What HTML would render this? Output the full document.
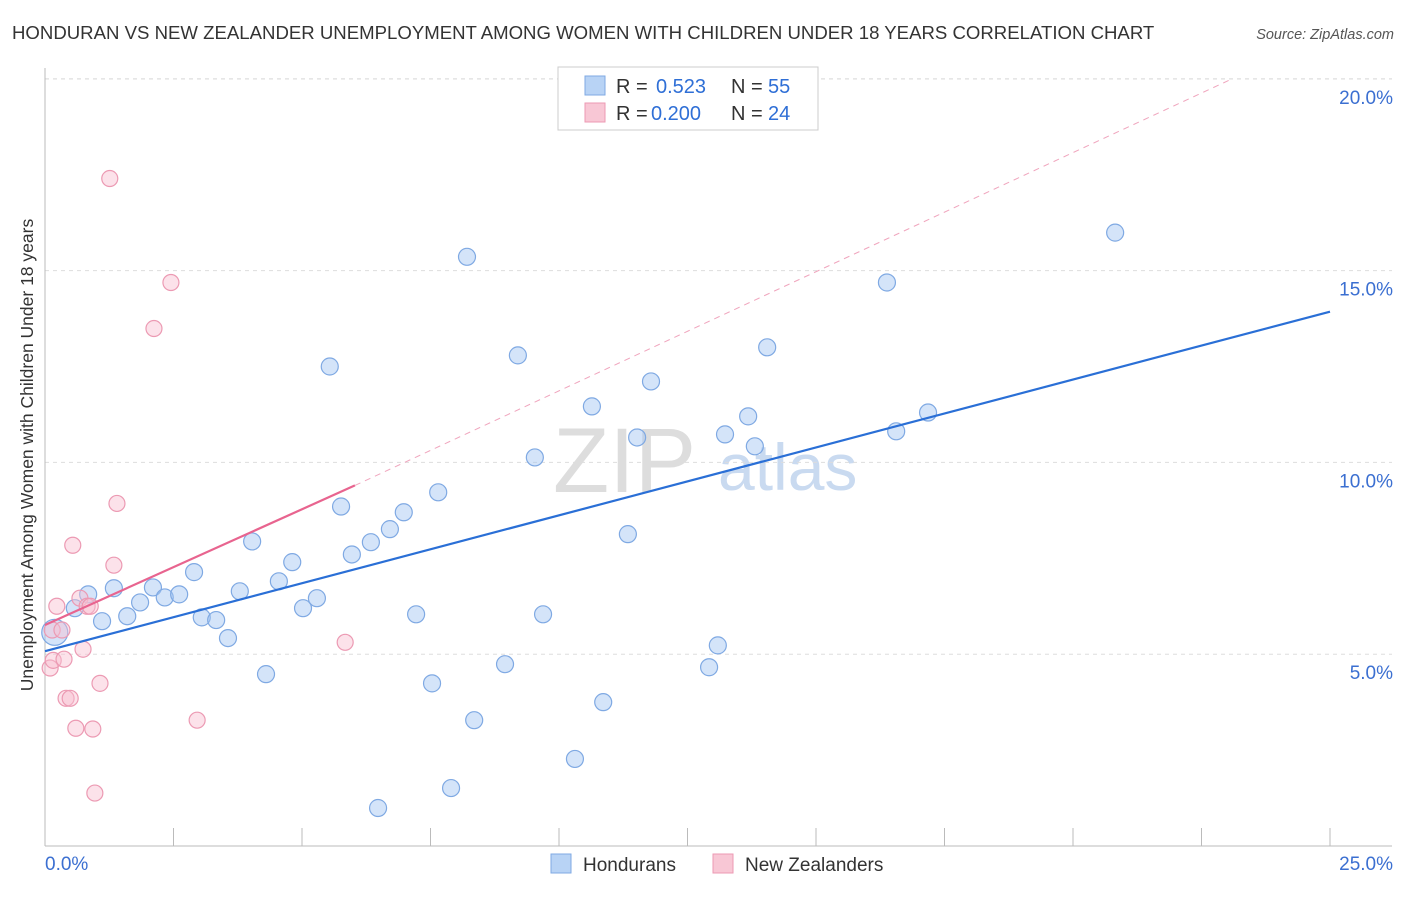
<!DOCTYPE html>
<html><head><meta charset="utf-8"><style>
body{margin:0;background:#fff;font-family:"Liberation Sans",sans-serif;}
svg text{font-family:"Liberation Sans",sans-serif;}
</style></head><body>
<svg id="chart" width="1406" height="892" xmlns="http://www.w3.org/2000/svg">
<text x="12" y="39" font-size="18.6" fill="#333">HONDURAN VS NEW ZEALANDER UNEMPLOYMENT AMONG WOMEN WITH CHILDREN UNDER 18 YEARS CORRELATION CHART</text>
<text x="1394" y="39" font-size="14.5" fill="#555" font-style="italic" text-anchor="end">Source: ZipAtlas.com</text>
<text x="33" y="455" font-size="17.5" fill="#333" text-anchor="middle" transform="rotate(-90 33 455)">Unemployment Among Women with Children Under 18 years</text>
<g><text x="553" y="492" font-size="92" fill="#ddd" font-family="Liberation Serif,serif">ZIP</text><text x="718" y="490" font-size="66" fill="#c9daf0">atlas</text></g>
<g id="grid"></g><g id="axes"></g><g id="marks"></g>
<g>
<rect x="558" y="67" width="260" height="63" fill="#fff" stroke="#ccc"/>
<rect x="585" y="76" width="20" height="19" fill="#b8d3f5" stroke="#7fa9e3"/>
<text x="616" y="93" font-size="20" fill="#333">R =</text><text x="656" y="93" font-size="20" fill="#2f6fd6">0.523</text>
<text x="731" y="93" font-size="20" fill="#333">N =</text><text x="768" y="93" font-size="20" fill="#2f6fd6">55</text>
<rect x="585" y="103" width="20" height="19" fill="#f8c7d5" stroke="#ec9ab3"/>
<text x="616" y="120" font-size="20" fill="#333">R =</text><text x="651" y="120" font-size="20" fill="#2f6fd6">0.200</text>
<text x="731" y="120" font-size="20" fill="#333">N =</text><text x="768" y="120" font-size="20" fill="#2f6fd6">24</text>
</g>
<g>
<rect x="551" y="854" width="20" height="19" fill="#b8d3f5" stroke="#7fa9e3"/>
<text x="583" y="871" font-size="19" fill="#333">Hondurans</text>
<rect x="713" y="854" width="20" height="19" fill="#f8c7d5" stroke="#ec9ab3"/>
<text x="745" y="871" font-size="19" fill="#333">New Zealanders</text>
</g>
</svg>
<script>
const blueX=[0.19,0.58,0.84,1.11,1.34,1.60,1.85,2.10,2.33,2.61,2.90,3.05,3.33,3.56,3.79,4.03,4.30,4.55,4.81,5.02,5.29,5.54,5.76,5.97,6.34,6.48,6.71,6.98,7.22,7.53,7.65,7.90,8.21,8.35,8.95,9.20,9.53,9.69,10.31,10.64,10.86,11.34,11.52,11.79,12.92,13.09,13.23,13.68,13.81,14.05,16.38,16.56,17.18,20.82];
const blueY=[5.57,6.2,6.56,5.86,6.72,5.99,6.35,6.74,6.48,6.56,7.14,5.96,5.89,5.42,6.64,7.94,4.48,6.90,7.40,6.20,6.46,12.5,8.85,7.60,7.92,0.99,8.26,8.70,6.04,4.24,9.22,1.51,15.36,3.28,4.74,12.79,10.13,6.04,2.27,11.46,3.75,8.13,10.65,12.11,4.66,5.23,10.73,11.2,10.42,13.0,14.69,10.81,11.3,15.99];
const pinkX=[0.14,0.10,0.16,0.23,0.33,0.37,0.41,0.49,0.54,0.60,0.68,0.74,0.82,0.88,0.93,0.97,1.07,1.26,1.34,1.40,2.12,2.45,2.96,5.84];
const pinkY=[5.63,4.64,4.84,6.25,5.63,4.87,3.85,3.85,7.84,3.07,6.46,5.13,6.25,6.25,3.05,1.38,4.24,17.4,7.32,8.93,13.49,14.69,3.28,5.31];
const blueTrend=[0,5.08,25,13.93];
const pinkTrend=[0,5.76,6.03,9.40];
const pinkDash=[6.03,9.40,23.05,19.97];
const yTicks=[5,10,15,20];
const yTickLabels=["5.0%","10.0%","15.0%","20.0%"];
const xTicks=[0,2.5,5,7.5,10,12.5,15,17.5,20,22.5,25];
const NS="http://www.w3.org/2000/svg";
const sx=v=>45+v*51.4, sy=v=>846-v*38.36;
function mk(p,t,a){const e=document.createElementNS(NS,t);for(const k in a)e.setAttribute(k,a[k]);document.getElementById(p).appendChild(e);return e;}
yTicks.forEach((v,i)=>{
 const g=mk('grid','line',{x1:45,x2:1392,y1:sy(v),y2:sy(v),stroke:'#ddd','stroke-dasharray':'4,4'});
 
 
 const t=mk('axes','text',{x:1393,y:sy(v)+25,'font-size':19,fill:'#3b6fd1','text-anchor':'end'});t.textContent=yTickLabels[i];
 
 
});
const topGrid=mk('grid','line',{x1:45,x2:1392,y1:79,y2:79,stroke:'#ddd','stroke-dasharray':'4,4'});


const yAxisLine=mk('axes','line',{x1:45,x2:45,y1:68,y2:846,stroke:'#bbb'});


const xAxisLine=mk('axes','line',{x1:45,x2:1392,y1:846,y2:846,stroke:'#bbb'});


xTicks.forEach(v=>{const l=mk('axes','line',{x1:sx(v),x2:sx(v),y1:828,y2:846,stroke:'#bbb'});
 
 });
const xMinLabel=mk('axes','text',{x:45,y:870,'font-size':19,fill:'#3b6fd1'});xMinLabel.textContent='0.0%';


const xMaxLabel=mk('axes','text',{x:1393,y:870,'font-size':19,fill:'#3b6fd1','text-anchor':'end'});xMaxLabel.textContent='25.0%';


blueX.forEach((x,i)=>{const c=mk('marks','circle',{cx:sx(x),cy:sy(blueY[i]),r:i==0?13:8.5,fill:'rgba(160,196,242,0.45)',stroke:'#7fa9e3','stroke-width':1.2});
 
 });
pinkX.forEach((x,i)=>{const c=mk('marks','circle',{cx:sx(x),cy:sy(pinkY[i]),r:8,fill:'rgba(248,190,208,0.45)',stroke:'#ec9ab3','stroke-width':1.2});
 
 });
const bt=mk('marks','line',{x1:sx(blueTrend[0]),y1:sy(blueTrend[1]),x2:sx(blueTrend[2]),y2:sy(blueTrend[3]),stroke:'#2a6fd6','stroke-width':2.2});


const pt=mk('marks','line',{x1:sx(pinkTrend[0]),y1:sy(pinkTrend[1]),x2:sx(pinkTrend[2]),y2:sy(pinkTrend[3]),stroke:'#e8648f','stroke-width':2.2});


const pd=mk('marks','line',{x1:sx(pinkDash[0]),y1:sy(pinkDash[1]),x2:sx(pinkDash[2]),y2:sy(pinkDash[3]),stroke:'#f0a6be','stroke-width':1,'stroke-dasharray':'6,5'});


</script>
</body></html>
